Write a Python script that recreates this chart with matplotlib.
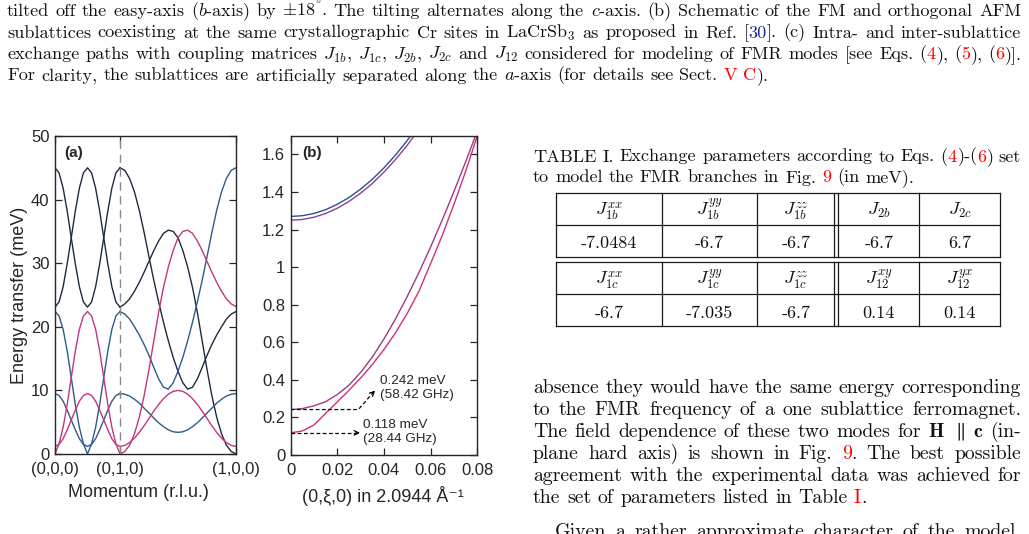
import re

import matplotlib

matplotlib.use("Agg")

import matplotlib.pyplot as plt
import numpy as np

W, H = 1029, 534
plt.rcParams["font.family"] = ["Liberation Sans", "DejaVu Sans"]
plt.rcParams["mathtext.fontset"] = "cm"

INK = "#111111"
RED = "#ff0000"
CITE = "#2222a0"
AXC = "#262626"
DARK = "#1d2b3f"
BLUE = "#2e5b8a"
PINK = "#c2367e"
PURPLE = "#8c4291"

# ---- panel (a): dispersion along (0,0,0)->(0,1,0)->(1,0,0), meV
path_labels = ["(0,0,0)", "(0,1,0)", "(1,0,0)"]
leg_lengths = [1.0, 1.785]
gy_t = np.linspace(0, 1, 17)
yx_t = np.linspace(0, 1, 25)

gy_dark1 = [45.0, 44.2, 41.8, 38.2, 34.0, 29.9, 26.3, 23.9, 23.1, 23.9, 26.3, 29.9, 34.0, 38.2, 41.8, 44.2, 45.0]
gy_dark2 = [23.1, 23.9, 26.3, 29.9, 34.0, 38.2, 41.8, 44.2, 45.0, 44.2, 41.8, 38.2, 34.0, 29.9, 26.3, 23.9, 23.1]
gy_blue1 = [22.4, 21.7, 19.6, 16.2, 12.0, 7.8, 4.2, 1.6, 0.0, 1.6, 4.2, 7.8, 12.0, 16.2, 19.6, 21.7, 22.4]
gy_pink1 = [0.0, 1.6, 4.2, 7.8, 12.0, 16.2, 19.6, 21.7, 22.4, 21.7, 19.6, 16.2, 12.0, 7.8, 4.2, 1.6, 0.0]
gy_blue2 = [9.5, 9.2, 8.3, 6.9, 5.35, 3.8, 2.4, 1.5, 1.2, 1.5, 2.4, 3.8, 5.35, 6.9, 8.3, 9.2, 9.5]
gy_pink2 = [1.2, 1.5, 2.4, 3.8, 5.35, 6.9, 8.3, 9.2, 9.5, 9.2, 8.3, 6.9, 5.35, 3.8, 2.4, 1.5, 1.2]

yx_dark1 = [45.0, 44.6, 43.3, 41.2, 38.3, 34.8, 31.0, 27.3, 23.9, 20.7, 17.8, 15.2, 13.0,
            11.2, 10.2, 10.5, 11.8, 13.6, 15.5, 17.2, 18.7, 20.0, 21.2, 22.0, 22.4]
yx_blue1 = [22.4, 22.0, 21.2, 20.0, 18.7, 17.2, 15.5, 13.6, 11.8, 10.5, 10.2, 11.2, 13.0,
            15.2, 17.8, 20.7, 23.9, 27.3, 31.0, 34.8, 38.3, 41.2, 43.3, 44.6, 45.0]
yx_pink1 = [0.0, 0.4, 1.4, 3.2, 5.8, 9.2, 13.3, 17.8, 22.3, 26.2, 29.4, 32.0, 34.0,
            35.0, 35.2, 34.7, 33.5, 32.0, 30.3, 28.6, 27.0, 25.6, 24.4, 23.6, 23.2]
yx_dark2 = [23.1, 23.6, 24.4, 25.6, 27.0, 28.6, 30.3, 32.0, 33.5, 34.7, 35.2, 35.0, 34.0,
            32.0, 29.4, 26.2, 22.3, 17.8, 13.3, 9.2, 5.8, 3.2, 1.4, 0.4, 0.0]
yx_blue2 = [9.5, 9.4, 9.1, 8.6, 8.0, 7.2, 6.45, 5.65, 4.9, 4.3, 3.8, 3.5, 3.4,
            3.5, 3.8, 4.3, 4.9, 5.65, 6.45, 7.2, 8.0, 8.6, 9.1, 9.4, 9.5]
yx_pink2 = [1.2, 1.35, 1.8, 2.5, 3.4, 4.45, 5.6, 6.75, 7.8, 8.7, 9.4, 9.85, 10.0,
            9.85, 9.4, 8.7, 7.8, 6.75, 5.6, 4.45, 3.4, 2.5, 1.8, 1.35, 1.2]

# ---- panel (b): low-energy FMR branches, meV vs xi
xi_upper = [0, 0.005, 0.01, 0.015, 0.02, 0.025, 0.03, 0.035, 0.04, 0.045, 0.05, 0.055]
upper_blue = [1.270, 1.274, 1.286, 1.306, 1.335, 1.371, 1.416, 1.468, 1.529, 1.598, 1.675, 1.760]
upper_purple = [1.250, 1.254, 1.266, 1.286, 1.314, 1.350, 1.394, 1.446, 1.506, 1.574, 1.650, 1.734]
xi_lower = [0, 0.005, 0.01, 0.015, 0.02, 0.025, 0.03, 0.035, 0.04, 0.045, 0.05, 0.055,
            0.06, 0.065, 0.07, 0.075, 0.08]
lower_purple = [0.242, 0.247, 0.262, 0.284, 0.322, 0.372, 0.440, 0.522, 0.618, 0.726, 0.845,
                0.972, 1.108, 1.252, 1.403, 1.561, 1.725]
lower_pink = [0.118, 0.128, 0.160, 0.222, 0.283, 0.345, 0.410, 0.482, 0.562, 0.652, 0.755,
              0.872, 1.020, 1.170, 1.335, 1.510, 1.700]
gap_energies = [0.242, 0.118]
gap_labels = ["0.242 meV\n(58.42 GHz)", "0.118 meV\n(28.44 GHz)"]

# ---- table I
table_heads = [[r"$J^{xx}_{1b}$", r"$J^{yy}_{1b}$", r"$J^{zz}_{1b}$", r"$J_{2b}$", r"$J_{2c}$"],
               [r"$J^{xx}_{1c}$", r"$J^{yy}_{1c}$", r"$J^{zz}_{1c}$", r"$J^{xy}_{12}$", r"$J^{yx}_{12}$"]]
table_values = [["-7.0484", "-6.7", "-6.7", "-6.7", "6.7"],
                ["-6.7", "-7.035", "-6.7", "0.14", "0.14"]]

caption_lines = [
    r"tilted off the easy-axis ($b$-axis) by $\pm18^{\degree}$. The tilting alternates along the $c$-axis. (b) Schematic of the FM and orthogonal AFM",
    r"sublattices coexisting at the same crystallographic Cr sites in LaCrSb$_3$ as proposed in Ref. [«30»]. (c) Intra- and inter-sublattice",
    r"exchange paths with coupling matrices $J_{1b}$, $J_{1c}$, $J_{2b}$, $J_{2c}$ and $J_{12}$ considered for modeling of FMR modes [see Eqs. (⟨4⟩), (⟨5⟩), (⟨6⟩)].",
    r"For clarity, the sublattices are artificially separated along the $a$-axis (for details see Sect. ⟨V⟩ ⟨C⟩).",
]
table_caption = [
    r"TABLE I. Exchange parameters according to Eqs. (⟨4⟩)-(⟨6⟩) set",
    r"to model the FMR branches in Fig. ⟨9⟩ (in meV).",
]
body_lines = [
    r"absence they would have the same energy corresponding",
    r"to the FMR frequency of a one sublattice ferromagnet.",
    r"The field dependence of these two modes for $\mathbf{H}$ $\parallel$ $\mathbf{c}$ (in-",
    r"plane hard axis) is shown in Fig. ⟨9⟩.  The best possible",
    r"agreement with the experimental data was achieved for",
    r"the set of parameters listed in Table ⟨I⟩.",
    r"Given a rather approximate character of the model,",
]
body_baselines = [393, 415, 437, 459, 481, 503, 537]

fig = plt.figure(figsize=(W / 100, H / 100), dpi=100)
page = fig.add_axes([0, 0, 1, 1])
page.set_xlim(0, W)
page.set_ylim(H, 0)
page.axis("off")
renderer = fig.canvas.get_renderer()


def split_colors(word):
    out = []
    for part in re.split(r"(⟨[^⟩]*⟩|«[^»]*»)", word):
        if not part:
            continue
        if part[0] == "⟨":
            out.append((part[1:-1], RED))
        elif part[0] == "«":
            out.append((part[1:-1], CITE))
        else:
            out.append((part, INK))
    return out


def make_words(line, y, size):
    words = []
    for w in [w for w in line.split(" ") if w]:
        arts = []
        for txt, col in split_colors(w):
            t = page.text(0, y, txt, color=col, fontsize=size, family="cmr10",
                          ha="left", va="baseline")
            arts.append((t, t.get_window_extent(renderer).width))
        words.append(arts)
    return words


def natural_width(line, size):
    words = make_words(line, 0, size)
    total = sum(wd for arts in words for _, wd in arts)
    for arts in words:
        for t, _ in arts:
            t.remove()
    return total + (len(words) - 1) * size * 0.333 * 100 / 72


# the last caption line is set ragged and runs from x=7 to x=768 in the page;
# the running text is one size step bigger than the (small) captions
CAPTION_SIZE = 10.0 * 761 / natural_width(caption_lines[3], 10.0)
BODY_SIZE = CAPTION_SIZE * 1.09


def write_line(x0, x1, y, line, size, justify=True):
    words = make_words(line, y, size)
    widths = [sum(wd for _, wd in arts) for arts in words]
    space = size * 0.333 * 100 / 72
    if justify and len(words) > 1:
        space = (x1 - x0 - sum(widths)) / (len(words) - 1)
    x = x0
    for arts in words:
        for t, wd in arts:
            t.set_x(x)
            x += wd
        x += space


for i, line in enumerate(caption_lines):
    write_line(7, 1021, 16 + 21.5 * i, line, CAPTION_SIZE, justify=i < 3)
for i, line in enumerate(table_caption):
    write_line(533, 1021, 161.5 + 21 * i, line, CAPTION_SIZE, justify=i == 0)
for i, line in enumerate(body_lines):
    x0 = 555 if i == 6 else 533
    write_line(x0, 1021, body_baselines[i], line, BODY_SIZE, justify=i != 5)

# table grid
col_edges = [556, 661.7, 757.3, 834.3, 919.3, 1000]
blocks = [(193.3, 225, 257.3), (261.7, 294, 325.7)]
centers = [(col_edges[0] + col_edges[1]) / 2, (col_edges[1] + col_edges[2]) / 2,
           (col_edges[2] + col_edges[3]) / 2, (838.3 + col_edges[4]) / 2,
           (col_edges[4] + col_edges[5]) / 2]
for bi, (top, mid, bot) in enumerate(blocks):
    for yy in (top, mid, bot):
        page.plot([556, 1000], [yy, yy], color="#1a1a1a", lw=0.9)
    for xx in col_edges + [838.3]:
        page.plot([xx, xx], [top, bot], color="#1a1a1a", lw=0.9)
    for cx, head, val in zip(centers, table_heads[bi], table_values[bi]):
        page.text(cx, top + 22, head, fontsize=CAPTION_SIZE, ha="center", va="baseline",
                  color=INK)
        page.text(cx, mid + 23.5, val, fontsize=CAPTION_SIZE, family="cmr10", ha="center",
                  va="baseline", color=INK)


def style_axes(ax):
    for sp in ax.spines.values():
        sp.set_color(AXC)
        sp.set_linewidth(1.0)
    ax.tick_params(direction="in", top=True, right=True, length=5, width=0.9,
                   colors=AXC, labelsize=12)
    ax.tick_params(axis="x", pad=6)
    ax.tick_params(axis="y", pad=4)


# ---- panel (a)
ax_a = fig.add_axes([55 / W, (H - 454) / H, 181 / W, 318 / H])
x_gy = gy_t * leg_lengths[0]
x_yx = leg_lengths[0] + yx_t * leg_lengths[1]
for vals, col in [(gy_dark1, DARK), (gy_dark2, DARK), (gy_blue1, BLUE), (gy_blue2, BLUE),
                  (gy_pink1, PINK), (gy_pink2, PINK)]:
    ax_a.plot(x_gy, vals, color=col, lw=1.0)
for vals, col in [(yx_dark1, DARK), (yx_dark2, DARK), (yx_blue1, BLUE), (yx_blue2, BLUE),
                  (yx_pink1, PINK), (yx_pink2, PINK)]:
    ax_a.plot(x_yx, vals, color=col, lw=1.0)
ax_a.axvline(leg_lengths[0], color="#8a8a8a", lw=1.0, ls=(0, (6, 4)))
ax_a.set_xlim(0, sum(leg_lengths))
ax_a.set_ylim(0, 50)
ax_a.set_xticks([0, leg_lengths[0], sum(leg_lengths)], path_labels)
ax_a.set_yticks([0, 10, 20, 30, 40, 50])
style_axes(ax_a)
ax_a.set_xlabel("Momentum (r.l.u.)", fontsize=13, color=AXC)
ax_a.xaxis.set_label_coords(0.463, -0.095)
ax_a.set_ylabel("Energy transfer (meV)", fontsize=13, color=AXC)
ax_a.yaxis.set_label_coords(-0.149, 0.5)
ax_a.text(0.05, 0.947, "(a)", transform=ax_a.transAxes, fontsize=11, fontweight="bold",
          va="center", color=AXC)

# ---- panel (b)
ax_b = fig.add_axes([290.7 / W, (H - 455) / H, 186.6 / W, 319.3 / H])
ax_b.plot(xi_upper, upper_blue, color="#2d4f92", lw=1.0)
ax_b.plot(xi_upper, upper_purple, color=PURPLE, lw=1.0)
ax_b.plot(xi_lower, lower_purple, color="#9e3a86", lw=1.0)
ax_b.plot(xi_lower, lower_pink, color="#d0307a", lw=1.0)
ax_b.set_xlim(0, 0.08)
ax_b.set_ylim(0, 1.7)
ax_b.set_xticks([0, 0.02, 0.04, 0.06, 0.08], ["0", "0.02", "0.04", "0.06", "0.08"])
ax_b.set_yticks([0, 0.2, 0.4, 0.6, 0.8, 1.0, 1.2, 1.4, 1.6],
                ["0", "0.2", "0.4", "0.6", "0.8", "1", "1.2", "1.4", "1.6"])
style_axes(ax_b)
ax_b.set_xlabel("(0,ξ,0) in 2.0944 Å⁻¹", fontsize=13, color=AXC)
ax_b.xaxis.set_label_coords(0.492, -0.097)
ax_b.text(0.06, 0.946, "(b)", transform=ax_b.transAxes, fontsize=11, fontweight="bold",
          va="center", color=AXC)

# gap markers
hi, lo = gap_energies
ax_b.plot([0, 0.029, 0.0355], [hi, hi, 0.335], color="k", lw=0.9, ls=(0, (3, 2)))
ax_b.annotate("", xy=(0.0362, 0.343), xytext=(0.0350, 0.328),
              arrowprops=dict(arrowstyle="->", color="k", lw=0.9, shrinkA=0, shrinkB=0,
                              mutation_scale=8))
ax_b.plot([0, 0.0285], [lo, lo], color="k", lw=0.9, ls=(0, (3, 2)))
ax_b.annotate("", xy=(0.0297, lo), xytext=(0.0280, lo),
              arrowprops=dict(arrowstyle="->", color="k", lw=0.9, shrinkA=0, shrinkB=0,
                              mutation_scale=8))
ax_b.text(0.0382, 0.356, gap_labels[0], fontsize=9.7, color=AXC, va="center", ha="left",
          linespacing=1.2)
ax_b.text(0.0311, 0.121, gap_labels[1], fontsize=9.7, color=AXC, va="center", ha="left",
          linespacing=1.2)

fig.savefig("out.png", dpi=100)
